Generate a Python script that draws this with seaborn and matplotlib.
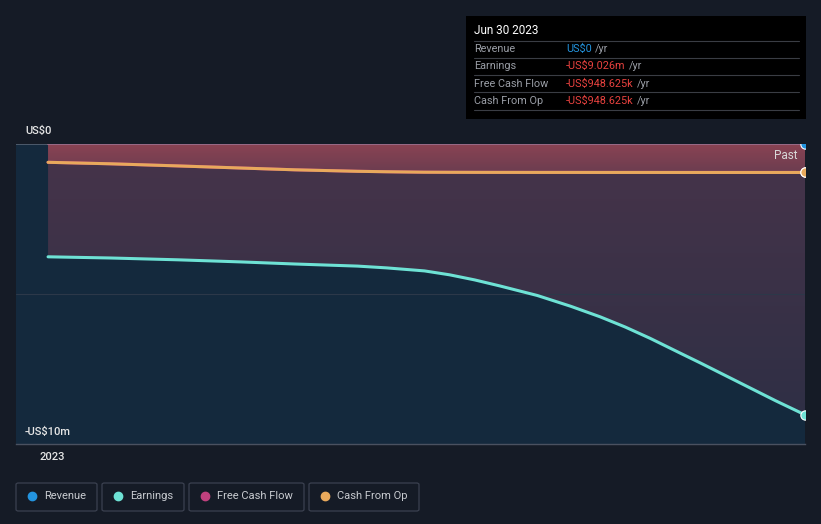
import numpy as np
import pandas as pd
import matplotlib
matplotlib.use("Agg")
import matplotlib.pyplot as plt
import matplotlib.dates as mdates
from matplotlib.colors import LinearSegmentedColormap
from matplotlib.patches import FancyBboxPatch, Rectangle
import seaborn as sns

# Data (US$ millions)
dates = ["2022-12-31", "2023-01-15", "2023-01-31", "2023-02-15", "2023-02-28",
         "2023-03-15", "2023-03-22", "2023-03-31", "2023-04-06", "2023-04-12",
         "2023-04-18", "2023-04-27", "2023-05-05", "2023-05-12", "2023-05-18",
         "2023-05-24", "2023-05-31", "2023-06-05", "2023-06-10", "2023-06-16",
         "2023-06-23", "2023-06-30"]
revenue = [0] * 22
earnings = [-3.76, -3.80, -3.86, -3.93, -4.00, -4.07, -4.13, -4.23, -4.36, -4.53,
            -4.73, -5.05, -5.41, -5.76, -6.10, -6.48, -6.96, -7.30, -7.65, -8.07,
            -8.56, -9.026]
free_cash_flow = [-0.61, -0.66, -0.73, -0.80, -0.86, -0.91, -0.925, -0.94, -0.943,
                  -0.945, -0.946, -0.947, -0.947, -0.948, -0.948, -0.948, -0.9486,
                  -0.9486, -0.9486, -0.9486, -0.9486, -0.948625]
cash_from_op = [-0.61, -0.66, -0.73, -0.80, -0.86, -0.91, -0.925, -0.94, -0.943,
                -0.945, -0.946, -0.947, -0.947, -0.948, -0.948, -0.948, -0.9486,
                -0.9486, -0.9486, -0.9486, -0.9486, -0.948625]

series_names = ["Revenue", "Earnings", "Free Cash Flow", "Cash From Op"]
series_colors = ["#2394df", "#6ee2d5", "#c0417e", "#e8a95c"]
tooltip_date = "Jun 30 2023"
tooltip_values = ["US$0", "-US$9.026m", "-US$948.625k", "-US$948.625k"]

BG = "#151b26"
PAST_BG = "#14293d"

sns.set_style("dark")
plt.rcParams["font.family"] = ["Roboto", "DejaVu Sans"]

df = pd.DataFrame({
    "date": pd.to_datetime(dates),
    "Revenue": revenue,
    "Earnings": earnings,
    "Free Cash Flow": free_cash_flow,
    "Cash From Op": cash_from_op,
})

fig = plt.figure(figsize=(8.21, 5.24), dpi=100, facecolor=BG)
ax = fig.add_axes([16 / 821, 1 - 444 / 524, 789 / 821, 300 / 524])
ax.set_facecolor(PAST_BG)

xmin = pd.Timestamp("2022-12-23 08:00")
xmax = pd.Timestamp("2023-06-30")
ax.set_ylim(-10, 0)
ax.set_xlim(xmin, xmax)


def gradient_fill(lower, top_col, bot_col, z):
    """Fill between 0 and `lower` with a vertical gradient."""
    poly = ax.fill_between(df["date"], 0, lower, color="none", lw=0, zorder=z)
    cmap = LinearSegmentedColormap.from_list("g", [bot_col, top_col])
    lo = min(lower)
    grad = np.linspace(0, 1, 256).reshape(-1, 1)
    im = ax.imshow(grad, cmap=cmap, aspect="auto", origin="lower",
                   extent=[mdates.date2num(xmin), mdates.date2num(xmax), lo, 0],
                   zorder=z)
    path = poly.get_paths()[0]
    im.set_clip_path(path, transform=ax.transData)


gradient_fill(df["Earnings"], "#47344a", "#2f2f45", 1)
gradient_fill(df["Cash From Op"], "#8b4353", "#6c3d50", 2)
ax.set_ylim(-10, 0)
ax.set_xlim(xmin, xmax)

# grid line at -5m and top line
ax.axhline(-5, color="#2c3849", lw=0.8, zorder=1.5)
ax.axhline(0, color="#4d5a6b", lw=1.4, zorder=3)

for name, color in zip(series_names, series_colors):
    lw = 2.2
    alpha = 1.0
    if name == "Revenue":
        lw, alpha = 1.4, 0.0
    sns.lineplot(data=df, x="date", y=name, color=color, lw=lw, alpha=alpha, ax=ax,
                 zorder=4, legend=False)
    ax.scatter(df["date"].iloc[-1], df[name].iloc[-1], s=45, color=color,
               edgecolor="white", linewidth=0.8, zorder=6)
# revenue line seen through the fills, at zero
ax.plot(df["date"], df["Revenue"], color="#9a6a86", lw=1.4, zorder=4)

ax.set_xticks([pd.Timestamp("2023-01-01")])
ax.xaxis.set_major_formatter(mdates.DateFormatter("%Y"))
ax.tick_params(axis="x", colors="#4a5160", length=4, width=1, labelcolor="#e6e6e6",
               labelsize=8, pad=2)
for lbl in ax.get_xticklabels():
    lbl.set_fontweight("medium")
ax.set_yticks([])
ax.set_xlabel("")
ax.set_ylabel("")
for side in ["top", "right", "left"]:
    ax.spines[side].set_visible(False)
ax.spines["bottom"].set_color("#4a5160")
ax.spines["bottom"].set_linewidth(1)

fig.text(25 / 821, 1 - 131 / 524, "US$0", color="#e6e6e6", fontsize=8,
         fontweight="medium", va="center", ha="left")
fig.text(25 / 821, 1 - 432 / 524, "-US$10m", color="#e6e6e6", fontsize=8,
         fontweight="medium", va="center", ha="left")
fig.text(797 / 821, 1 - 156 / 524, "Past", color="#d8d8d8", fontsize=8.5,
         ha="right", va="center")

# tooltip box
fig.patches.append(Rectangle((466 / 821, 1 - 119 / 524), 340 / 821, 103 / 524,
                             transform=fig.transFigure, facecolor="#000000",
                             edgecolor="none"))
fig.text(474 / 821, 1 - 31 / 524, tooltip_date, color="#ffffff", fontsize=8.5,
         va="center")
row_y = [49, 66, 84, 101]
sep_y = [41, 58, 75, 92, 110]
for yy in sep_y:
    fig.lines.append(plt.Line2D([474 / 821, 799 / 821], [1 - yy / 524, 1 - yy / 524],
                                transform=fig.transFigure, color="#3a3d44", lw=0.8))
for i, (name, val) in enumerate(zip(series_names, tooltip_values)):
    y = 1 - row_y[i] / 524
    fig.text(474 / 821, y, name, color="#9a9ea6", fontsize=7.8, va="center")
    vcol = "#2394df" if i == 0 else "#e8423f"
    t = fig.text(566 / 821, y, val, color=vcol, fontsize=7.8, va="center")
    fig.canvas.draw()
    bb = t.get_window_extent()
    fig.text((bb.x1 + 3) / 821, y, "/yr", color="#9a9ea6", fontsize=7.8,
             va="center")

# legend boxes
boxes = [(16, 97), (102, 184), (189, 304), (309, 419)]
for (x0, x1), name, color in zip(boxes, series_names, series_colors):
    fig.patches.append(FancyBboxPatch((x0 / 821, 1 - 511 / 524), (x1 - x0) / 821,
                                      28 / 524, boxstyle="round,pad=0,rounding_size=0.003",
                                      transform=fig.transFigure, facecolor=BG,
                                      edgecolor="#3b4150", lw=0.9))
    yc = 1 - 496 / 524
    fig.lines.append(plt.Line2D([(x0 + 16) / 821], [yc], marker="o", markersize=6,
                                color=color, transform=fig.transFigure, lw=0))
    fig.text((x0 + 28) / 821, yc, name, color="#c8cbd0", fontsize=8, va="center")

fig.savefig("out.png", dpi=100, facecolor=BG)
